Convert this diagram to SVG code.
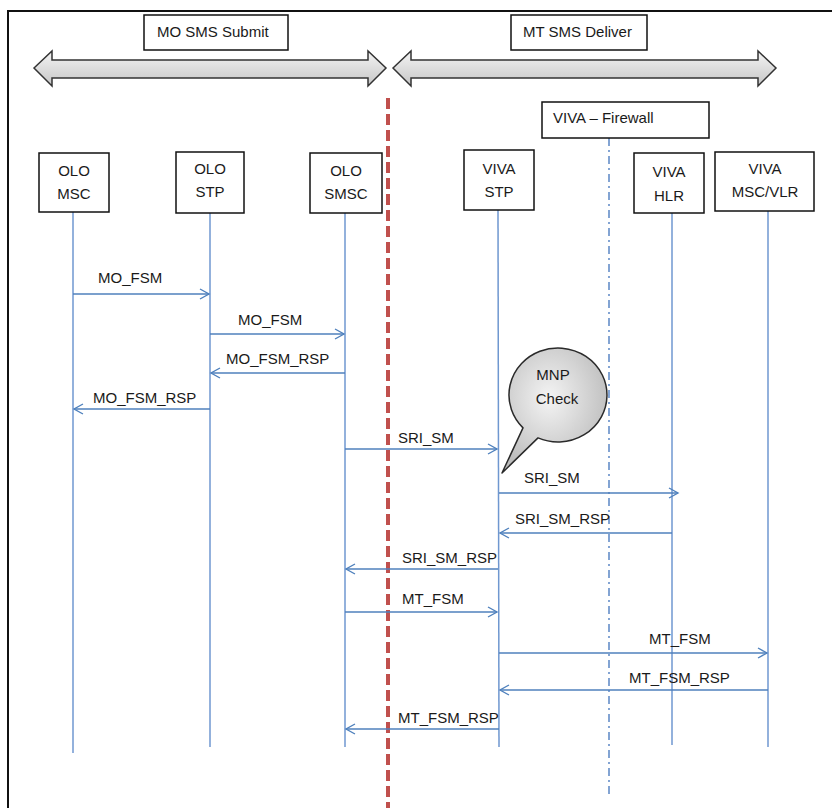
<svg xmlns="http://www.w3.org/2000/svg" width="832" height="808" viewBox="0 0 832 808">
<style>
text{font-family:"Liberation Sans",Arial,sans-serif;font-size:15px;fill:#1a1a1a}
.box{fill:#fff;stroke:#111;stroke-width:1.5}
.life{stroke:#6f97d0;stroke-width:1.5;fill:none}
.msg{stroke:#4f81bd;stroke-width:1.4;fill:none;marker-end:url(#ah)}
.big{fill:url(#gg);stroke:#333;stroke-width:1.5;stroke-linejoin:miter}
.c{text-anchor:middle}
</style>
<defs>
<marker id="ah" markerWidth="12" markerHeight="12" refX="10" refY="6" orient="auto" markerUnits="userSpaceOnUse">
<path d="M1,1 L10,6 L1,11" fill="none" stroke="#4f81bd" stroke-width="1.4"/>
</marker>
<linearGradient id="gg" x1="0" y1="0" x2="0" y2="1">
<stop offset="0" stop-color="#f4f4f4"/>
<stop offset="1" stop-color="#c6c6c6"/>
</linearGradient>
<radialGradient id="bg" cx="0.45" cy="0.4" r="0.6">
<stop offset="0" stop-color="#f4f4f4"/>
<stop offset="1" stop-color="#bdbdbd"/>
</radialGradient>
</defs>
<rect x="0" y="0" width="832" height="808" fill="#fff"/>
<rect x="8" y="11" width="830" height="810" fill="none" stroke="#111" stroke-width="2"/>

<g id="phase-mo">
<path class="big" d="M34,68 L52,51 L52,60 L368,60 L368,51 L386,68 L368,86 L368,78 L52,78 L52,86 Z"/>
<rect class="box" x="144" y="15" width="144" height="35"/>
<text x="157" y="37">MO SMS Submit</text>
</g>
<g id="phase-mt">
<path class="big" d="M393,68 L411,51 L411,60 L758,60 L758,51 L776,68 L758,86 L758,78 L411,78 L411,86 Z"/>
<rect class="box" x="511" y="15" width="136" height="35"/>
<text x="523" y="37">MT SMS Deliver</text>
</g>

<g id="boundary">
<line x1="388" y1="98" x2="388" y2="808" stroke="#c0504d" stroke-width="4" stroke-dasharray="11,5"/>
</g>

<g id="firewall">
<line x1="609" y1="138" x2="609" y2="796" stroke="#5b87c5" stroke-width="1.5" stroke-dasharray="8,4,2,4"/>
<rect class="box" x="542" y="102" width="167" height="36"/>
<text x="553" y="123">VIVA – Firewall</text>
</g>

<g id="olo-msc">
<line class="life" x1="73" y1="212" x2="73" y2="753"/>
<rect class="box" x="39" y="153" width="70" height="59"/>
<text class="c" x="74" y="176">OLO</text><text class="c" x="74" y="199">MSC</text>
</g>
<g id="olo-stp">
<line class="life" x1="210" y1="213" x2="210" y2="747"/>
<rect class="box" x="176" y="152" width="68" height="61"/>
<text class="c" x="210" y="174">OLO</text><text class="c" x="210" y="197">STP</text>
</g>
<g id="olo-smsc">
<line class="life" x1="345" y1="213" x2="345" y2="747"/>
<rect class="box" x="310" y="153" width="72" height="60"/>
<text class="c" x="346" y="176">OLO</text><text class="c" x="346" y="199">SMSC</text>
</g>
<g id="viva-stp">
<line class="life" x1="498" y1="210" x2="499" y2="747"/>
<rect class="box" x="464" y="150" width="70" height="60"/>
<text class="c" x="499" y="174">VIVA</text><text class="c" x="499" y="197">STP</text>
</g>
<g id="viva-hlr">
<line class="life" x1="672" y1="213" x2="672" y2="745"/>
<rect class="box" x="634" y="153" width="70" height="60"/>
<text class="c" x="669" y="177">VIVA</text><text class="c" x="669" y="201">HLR</text>
</g>
<g id="viva-msc-vlr">
<line class="life" x1="768" y1="211" x2="768" y2="747"/>
<rect class="box" x="715" y="152" width="99" height="59"/>
<text class="c" x="765" y="174">VIVA</text><text class="c" x="765" y="197">MSC/VLR</text>
</g>

<g id="mnp-check">
<path d="M523,427.9 A49,47 0 1 1 538,437.9 L502,473 Z" fill="url(#bg)" stroke="#2a2a2a" stroke-width="1.5" stroke-linejoin="round"/>
<text class="c" x="553" y="380">MNP</text>
<text class="c" x="557" y="404">Check</text>
</g>

<g id="connectors">
<line class="msg" x1="73" y1="294" x2="209" y2="294"/>
<line class="msg" x1="210" y1="334" x2="344" y2="334"/>
<line class="msg" x1="345" y1="373" x2="211" y2="373"/>
<line class="msg" x1="210" y1="409" x2="74" y2="409"/>
<line class="msg" x1="345" y1="449" x2="497" y2="449"/>
<line class="msg" x1="499" y1="493" x2="678" y2="493"/>
<line class="msg" x1="672" y1="533" x2="500" y2="533"/>
<line class="msg" x1="498" y1="569" x2="346" y2="569"/>
<line class="msg" x1="345" y1="612" x2="497" y2="612"/>
<line class="msg" x1="499" y1="653" x2="767" y2="653"/>
<line class="msg" x1="768" y1="690" x2="500" y2="690"/>
<line class="msg" x1="499" y1="729" x2="346" y2="729"/>
<text x="98" y="283">MO_FSM</text>
<text x="238" y="325">MO_FSM</text>
<text x="226" y="364">MO_FSM_RSP</text>
<text x="93" y="403">MO_FSM_RSP</text>
<text x="398" y="443">SRI_SM</text>
<text x="524" y="483">SRI_SM</text>
<text x="515" y="524">SRI_SM_RSP</text>
<text x="402" y="563">SRI_SM_RSP</text>
<text x="402" y="604">MT_FSM</text>
<text x="649" y="644">MT_FSM</text>
<text x="629" y="683">MT_FSM_RSP</text>
<text x="398" y="723">MT_FSM_RSP</text>
</g>
</svg>
